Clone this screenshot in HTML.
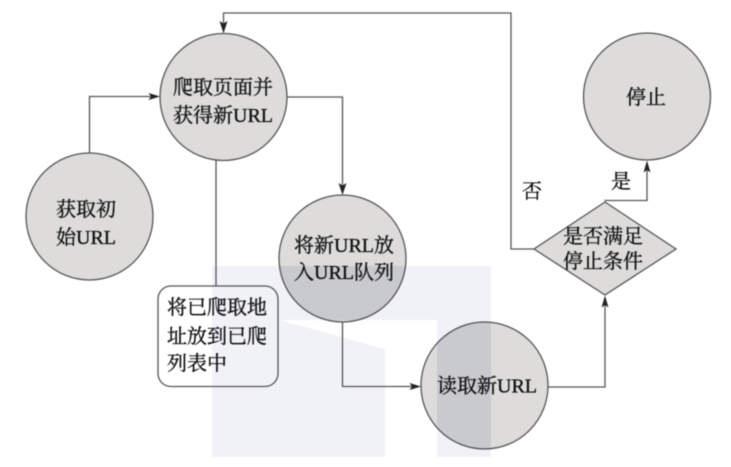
<!DOCTYPE html>
<html>
<head>
<meta charset="utf-8">
<style>
html,body{margin:0;padding:0;background:#fff;width:731px;height:467px;overflow:hidden}
svg{display:block;filter:blur(0.4px)}
text{font-family:"Liberation Serif","Noto Serif CJK SC",serif;font-size:20px;fill:#111;stroke:#111;stroke-width:.35px;text-anchor:middle}
</style>
</head>
<body>
<svg width="731" height="467" viewBox="0 0 731 467" xmlns="http://www.w3.org/2000/svg">
  <defs>
    <clipPath id="c">
      <circle cx="342.5" cy="258.5" r="63.5"/>
      <circle cx="484.5" cy="385.5" r="63.5"/>
    </clipPath>
  </defs>
  <path d="M212,266 H491 V457 H437 V320 H280 L385,349 V457 H212 Z" fill="#f1f2f8"/>
  <g fill="#dddcdb" stroke="#555" stroke-width="1.3">
    <circle cx="223.5" cy="97" r="63.5"/>
    <circle cx="89.5" cy="216.5" r="63.5"/>
    <circle cx="342.5" cy="258.5" r="63.5"/>
    <circle cx="484.5" cy="385.5" r="63.5"/>
    <circle cx="647" cy="96.5" r="63.5"/>
    <polygon points="605,202 676,249 605,295 534,249"/>
  </g>
  <g clip-path="url(#c)" style="mix-blend-mode:multiply">
    <path d="M212,266 H491 V457 H437 V320 H280 L385,349 V457 H212 Z" fill="#e8e9f2"/>
  </g>
  <rect x="158" y="286" width="120" height="100.5" rx="13" ry="13" fill="none" stroke="#555" stroke-width="1.3"/>
  <g fill="none" stroke="#555" stroke-width="1.3">
    <polyline points="534,249 511,249 511,13 223.5,13 223.5,26"/>
    <polyline points="89.5,153 89.5,96.5 154,96.5"/>
    <polyline points="287,97 342.5,97 342.5,188"/>
    <polyline points="216,160.5 216,286"/>
    <polyline points="342.5,322 342.5,386.5 414,386.5"/>
    <polyline points="548,387 605,387 605,302"/>
    <polyline points="605,201 605,200.5 647,200.5 647,167"/>
  </g>
  <g fill="#222">
    <polygon points="223.5,33.5 219.5,21 223.5,23.5 227.5,21"/>
    <polygon points="160,96.5 148.5,93 151,96.5 148.5,100"/>
    <polygon points="342.5,195 338.5,183 342.5,185.5 346.5,183"/>
    <polygon points="421,386.5 409.5,383 412,386.5 409.5,390"/>
    <polygon points="605,295.5 601.5,307.5 605,305 608.5,307.5"/>
    <polygon points="647,160.5 643.5,172.5 647,170 650.5,172.5"/>
  </g>
  <text x="223" y="94">爬取页面并</text>
  <text x="223" y="122">获得新URL</text>
  <text x="86" y="216">获取初</text>
  <text x="86" y="244">始URL</text>
  <text x="344" y="252">将新URL放</text>
  <text x="344" y="279">入URL队列</text>
  <text x="487" y="392.5">读取新URL</text>
  <text x="646" y="104">停止</text>
  <text x="603" y="243">是否满足</text>
  <text x="603" y="268">停止条件</text>
  <text x="532" y="198">否</text>
  <text x="621" y="188">是</text>
  <text x="217" y="314">将已爬取地</text>
  <text x="217" y="343">址放到已爬</text>
  <text x="197" y="370">列表中</text>
</svg>
</body>
</html>
